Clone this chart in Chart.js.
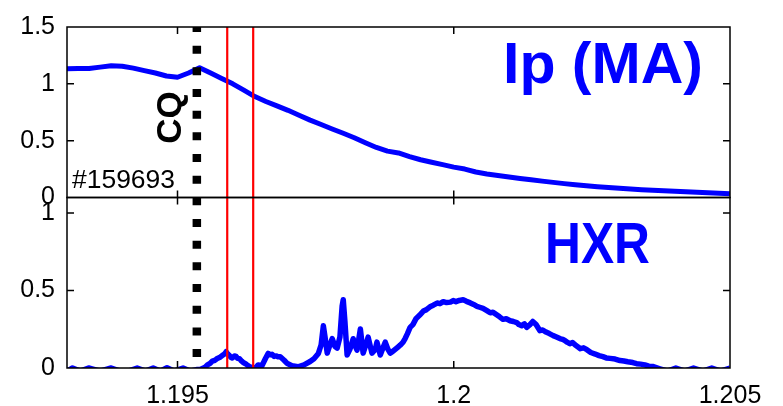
<!DOCTYPE html>
<html>
<head>
<meta charset="utf-8">
<script src="https://cdn.jsdelivr.net/npm/chart.js@4/dist/chart.umd.min.js"></script>
<style>
  html, body { margin: 0; padding: 0; background: #ffffff; }
  canvas { display: block; }
</style>
</head>
<body>
<canvas id="c" width="783" height="406"></canvas>
<script>
// Shot #159693 — plasma current and hard X-ray signal around the current quench
const shotLabel = '#159693';

// Time axis (s)
const xMin = 1.193;
const xMax = 1.205;
const xTickValues = [1.195, 1.2, 1.205];
const xTickLabels = ['1.195', '1.2', '1.205'];

// Plasma current Ip (MA)
const ipTime = [
  1.1930, 1.1932, 1.1934, 1.1936, 1.1938, 1.1940, 1.1942, 1.1944, 1.1946, 1.1948,
  1.1950, 1.1952, 1.1954, 1.1956, 1.1958, 1.1960, 1.1962, 1.1964, 1.1966, 1.1968,
  1.1970, 1.1972, 1.1974, 1.1976, 1.1978, 1.1980, 1.1982, 1.1984, 1.1986, 1.1988,
  1.1990, 1.1992, 1.1994, 1.1996, 1.1998, 1.2000, 1.2002, 1.2004, 1.2006, 1.2008,
  1.2010, 1.2012, 1.2014, 1.2016, 1.2018, 1.2020, 1.2022, 1.2024, 1.2026, 1.2028,
  1.2030, 1.2032, 1.2034, 1.2036, 1.2038, 1.2040, 1.2042, 1.2044, 1.2046, 1.2048,
  1.2050
];
const ipValues = [
  1.132, 1.134, 1.135, 1.147, 1.159, 1.155, 1.138, 1.116, 1.095, 1.069,
  1.058, 1.095, 1.142, 1.095, 1.047, 1.000, 0.944, 0.888, 0.845, 0.806,
  0.767, 0.724, 0.681, 0.642, 0.603, 0.565, 0.526, 0.482, 0.440, 0.408,
  0.392, 0.360, 0.332, 0.310, 0.289, 0.267, 0.250, 0.224, 0.207, 0.194,
  0.181, 0.168, 0.157, 0.144, 0.133, 0.122, 0.112, 0.103, 0.095, 0.088,
  0.081, 0.075, 0.069, 0.064, 0.059, 0.054, 0.050, 0.046, 0.041, 0.038,
  0.034
];
const ipTicks = [0, 0.5, 1, 1.5];
const ipTickLabels = ['0', '0.5', '1', '1.5'];

// Hard X-ray signal (a.u.)
const hxrTime = [
  1.19300, 1.19310, 1.19324, 1.19339, 1.19360, 1.19380, 1.19396, 1.19411, 1.19427, 1.19442,
  1.19456, 1.19469, 1.19481, 1.19494, 1.19510, 1.19523, 1.19536, 1.19541, 1.19550, 1.19555,
  1.19559, 1.19563, 1.19568, 1.19572, 1.19577, 1.19581, 1.19585, 1.19588, 1.19591, 1.19594,
  1.19597, 1.19599, 1.19603, 1.19606, 1.19609, 1.19612, 1.19616, 1.19619, 1.19623, 1.19626,
  1.19630, 1.19633, 1.19641, 1.19646, 1.19653, 1.19659, 1.19664, 1.19668, 1.19671, 1.19675,
  1.19679, 1.19682, 1.19686, 1.19693, 1.19698, 1.19707, 1.19718, 1.19729, 1.19740, 1.19747,
  1.19755, 1.19760, 1.19764, 1.19767, 1.19771, 1.19776, 1.19780, 1.19785, 1.19789, 1.19794,
  1.19798, 1.19800, 1.19803, 1.19807, 1.19812, 1.19818, 1.19822, 1.19825, 1.19831, 1.19836,
  1.19841, 1.19845, 1.19849, 1.19852, 1.19858, 1.19861, 1.19867, 1.19872, 1.19876, 1.19881,
  1.19885, 1.19889, 1.19894, 1.19899, 1.19903, 1.19908, 1.19912, 1.19916, 1.19921, 1.19926,
  1.19932, 1.19938, 1.19945, 1.19950, 1.19957, 1.19963, 1.19970, 1.19975, 1.19981, 1.19987,
  1.19994, 1.19999, 1.20004, 1.20010, 1.20017, 1.20023, 1.20030, 1.20036, 1.20042, 1.20047,
  1.20053, 1.20060, 1.20066, 1.20071, 1.20077, 1.20083, 1.20089, 1.20095, 1.20102, 1.20108,
  1.20114, 1.20118, 1.20123, 1.20128, 1.20132, 1.20138, 1.20143, 1.20149, 1.20156, 1.20161,
  1.20167, 1.20173, 1.20180, 1.20186, 1.20192, 1.20197, 1.20201, 1.20206, 1.20210, 1.20215,
  1.20220, 1.20225, 1.20229, 1.20235, 1.20241, 1.20248, 1.20256, 1.20263, 1.20270, 1.20276,
  1.20283, 1.20292, 1.20301, 1.20308, 1.20315, 1.20324, 1.20331, 1.20338, 1.20346, 1.20353,
  1.20360, 1.20373, 1.20387, 1.20402, 1.20418, 1.20434, 1.20451, 1.20467, 1.20483, 1.20500
];
const hxrValues = [
  -0.02, 0.0, -0.02, 0.0, -0.02, 0.0, -0.02, -0.02, 0.0, -0.02,
  0.0, -0.02, 0.002, -0.02, 0.0, -0.02, -0.01, -0.01, 0.005, 0.022,
  0.03, 0.045, 0.05, 0.062, 0.07, 0.08, 0.09, 0.105, 0.09, 0.08,
  0.068, 0.065, 0.078, 0.075, 0.062, 0.06, 0.045, 0.035, 0.028, 0.02,
  0.01, 0.005, 0.0, 0.02, 0.015, 0.06, 0.094, 0.085, 0.088, 0.075,
  0.078, 0.072, 0.073, 0.05, 0.031, 0.015, 0.008, 0.02, 0.042, 0.06,
  0.094, 0.15, 0.272, 0.20, 0.096, 0.15, 0.189, 0.14, 0.128, 0.2,
  0.40, 0.44, 0.30, 0.084, 0.12, 0.189, 0.14, 0.115, 0.252, 0.096,
  0.15, 0.199, 0.14, 0.096, 0.12, 0.167, 0.084, 0.13, 0.167, 0.12,
  0.096, 0.105, 0.12, 0.135, 0.147, 0.165, 0.19, 0.22, 0.262, 0.28,
  0.32, 0.34, 0.367, 0.375, 0.395, 0.405, 0.419, 0.415, 0.428, 0.422,
  0.425, 0.435, 0.428, 0.436, 0.44, 0.43, 0.42, 0.41, 0.398, 0.392,
  0.385, 0.37, 0.356, 0.36, 0.345, 0.33, 0.314, 0.318, 0.305, 0.30,
  0.293, 0.28, 0.272, 0.285, 0.262, 0.28, 0.30, 0.28, 0.241, 0.245,
  0.232, 0.222, 0.209, 0.2, 0.19, 0.185, 0.178, 0.165, 0.157, 0.165,
  0.148, 0.135, 0.125, 0.13, 0.118, 0.10, 0.09, 0.08, 0.073, 0.065,
  0.062, 0.058, 0.048, 0.045, 0.04, 0.035, 0.028, 0.025, 0.02, 0.012,
  0.01, -0.005, -0.02, 0.0, -0.02, 0.0, -0.02, 0.0, -0.02, 0.0
];
const hxrTicks = [0, 0.5, 1];
const hxrTickLabels = ['0', '0.5', '1'];

// Marked times: current quench (dotted) and two reference instants (red)
const cqTime = 1.19535;
const redTimes = [1.1959, 1.19637];

const BLUE = '#0000ff';
const FONT = '"Liberation Sans", Arial, Helvetica, sans-serif';

function toPoints(xs, ys) { return xs.map((x, i) => ({ x: x, y: ys[i] })); }

function fixedTicks(values) {
  return function (scale) { scale.ticks = values.map(v => ({ value: v })); };
}
function labelFrom(values, labels) {
  return function (value) {
    const i = values.findIndex(v => Math.abs(v - value) < 1e-9);
    return i >= 0 ? labels[i] : '';
  };
}

// Draws a string so that it spans a given width at a given font size
function fitText(ctx, text, x, y, font, width) {
  ctx.save();
  ctx.font = font;
  const w = ctx.measureText(text).width;
  ctx.translate(x, y);
  ctx.scale(width / w, 1);
  ctx.fillText(text, 0, 0);
  ctx.restore();
}

const panelDecor = {
  id: 'panelDecor',
  afterDatasetsDraw(chart) {
    const ctx = chart.ctx;
    const area = chart.chartArea;
    const xs = chart.scales.x;
    const panels = [
      { s: chart.scales.yIp, ticks: ipTicks },
      { s: chart.scales.yHxr, ticks: hxrTicks }
    ];

    // red reference lines
    ctx.save();
    ctx.strokeStyle = '#ff0000';
    ctx.lineWidth = 2.2;
    redTimes.forEach(t => {
      const px = xs.getPixelForValue(t);
      ctx.beginPath();
      ctx.moveTo(px, area.top);
      ctx.lineTo(px, area.bottom);
      ctx.stroke();
    });
    ctx.restore();

    // current quench marker: heavy square-dotted line
    ctx.save();
    ctx.strokeStyle = '#000000';
    ctx.lineWidth = 8.5;
    ctx.lineCap = 'butt';
    ctx.setLineDash([8, 13.67]);
    ctx.lineDashOffset = 3;
    const cx = xs.getPixelForValue(cqTime);
    ctx.beginPath();
    ctx.moveTo(cx, area.top);
    ctx.lineTo(cx, area.bottom);
    ctx.stroke();
    ctx.restore();

    // boxes with inward tick marks
    ctx.save();
    ctx.strokeStyle = '#000000';
    ctx.lineWidth = 1.5;
    const tl = 7;
    panels.forEach(p => {
      const s = p.s;
      ctx.strokeRect(area.left, s.top, area.right - area.left, s.bottom - s.top);
      ctx.beginPath();
      xTickValues.forEach(v => {
        const px = xs.getPixelForValue(v);
        if (px > area.left + 1 && px < area.right - 1) {
          ctx.moveTo(px, s.top); ctx.lineTo(px, s.top + tl);
          ctx.moveTo(px, s.bottom); ctx.lineTo(px, s.bottom - tl);
        }
      });
      p.ticks.forEach(v => {
        const py = s.getPixelForValue(v);
        if (py > s.top + 1 && py < s.bottom - 1) {
          ctx.moveTo(area.left, py); ctx.lineTo(area.left + tl, py);
          ctx.moveTo(area.right, py); ctx.lineTo(area.right - tl, py);
        }
      });
      ctx.stroke();
    });
    ctx.restore();

    // annotations
    ctx.save();
    ctx.fillStyle = BLUE;
    ctx.textBaseline = 'alphabetic';
    ctx.textAlign = 'left';
    fitText(ctx, 'Ip (MA)', 503, 83, 'bold 57px ' + FONT, 200);
    fitText(ctx, 'HXR', 545, 263, 'bold 57px ' + FONT, 105);

    ctx.fillStyle = '#000000';
    fitText(ctx, shotLabel, 72, 188, '26px ' + FONT, 103);

    ctx.translate(181, 117.5);
    ctx.rotate(-Math.PI / 2);
    ctx.textAlign = 'center';
    ctx.font = 'bold 35px ' + FONT;
    ctx.fillText('CQ', 0, 0);
    ctx.restore();
  }
};

const tickFont = { family: FONT, size: 25 };

new Chart(document.getElementById('c'), {
  type: 'line',
  data: {
    datasets: [
      {
        label: 'Ip (MA)',
        data: toPoints(ipTime, ipValues),
        xAxisID: 'x',
        yAxisID: 'yIp',
        borderColor: BLUE,
        borderWidth: 5,
        pointRadius: 0,
        tension: 0,
        borderJoinStyle: 'round',
        clip: 0
      },
      {
        label: 'HXR',
        data: toPoints(hxrTime, hxrValues),
        xAxisID: 'x',
        yAxisID: 'yHxr',
        borderColor: BLUE,
        borderWidth: 5.5,
        pointRadius: 0,
        tension: 0,
        borderJoinStyle: 'round',
        clip: 0
      }
    ]
  },
  options: {
    responsive: false,
    animation: false,
    events: [],
    layout: { padding: { top: 19, right: 53, left: 0, bottom: 0 } },
    plugins: { legend: { display: false }, tooltip: { enabled: false } },
    scales: {
      x: {
        type: 'linear',
        position: 'bottom',
        min: xMin,
        max: xMax,
        grid: { display: false, drawTicks: false },
        border: { display: false },
        afterBuildTicks: fixedTicks(xTickValues),
        afterFit(scale) { scale.height = 38; },
        ticks: {
          color: '#000000',
          font: tickFont,
          padding: 13,
          maxRotation: 0,
          autoSkip: false,
          callback: labelFrom(xTickValues, xTickLabels)
        }
      },
      yIp: {
        type: 'linear',
        position: 'left',
        stack: 'panels',
        stackWeight: 1,
        weight: 2,
        min: 0,
        max: 1.5,
        grid: { display: false, drawTicks: false },
        border: { display: false },
        afterBuildTicks: fixedTicks(ipTicks),
        afterFit(scale) { scale.width = 67; },
        ticks: {
          color: '#000000',
          font: tickFont,
          padding: 12,
          autoSkip: false,
          callback: labelFrom(ipTicks, ipTickLabels)
        }
      },
      yHxr: {
        type: 'linear',
        position: 'left',
        stack: 'panels',
        stackWeight: 1,
        weight: 1,
        min: 0,
        max: 1.1,
        grid: { display: false, drawTicks: false },
        border: { display: false },
        afterBuildTicks: fixedTicks(hxrTicks),
        afterFit(scale) { scale.width = 67; },
        ticks: {
          color: '#000000',
          font: tickFont,
          padding: 12,
          autoSkip: false,
          callback: labelFrom(hxrTicks, hxrTickLabels)
        }
      }
    }
  },
  plugins: [panelDecor]
});
</script>
</body>
</html>
